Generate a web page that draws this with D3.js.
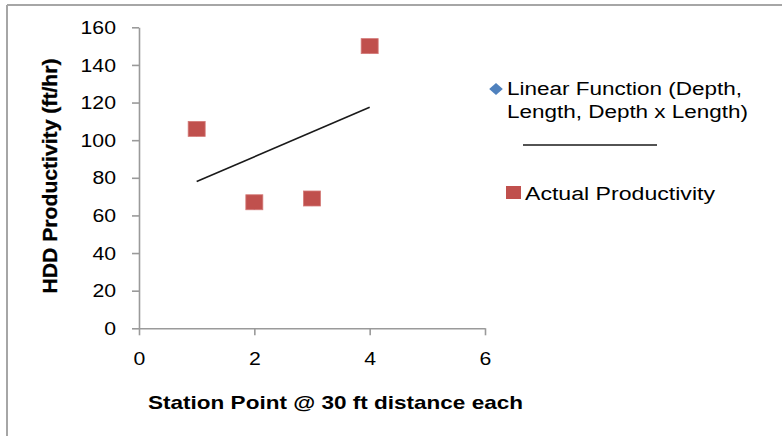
<!DOCTYPE html>
<html>
<head>
<meta charset="utf-8">
<script src="https://cdn.jsdelivr.net/npm/d3@7"></script>
<style>
  html, body { margin: 0; padding: 0; background: #fff; }
  svg { display: block; font-family: "Liberation Sans", Arial, sans-serif; }
</style>
</head>
<body>
<svg id="chart" width="782" height="436"></svg>
<script>
// Station points along the bore (x) and productivity values (ft/hr)
const stations = [1, 2, 3, 4];
const actualProductivity = [106, 67, 69, 150];
const linearFunction = [104, 65, 67, 148];
// Linear trend of the model series, drawn between its end stations
const trendStations = [1, 4];
const trendValues = [78, 117.5];

const xTicks = [0, 2, 4, 6];
const yTicks = [0, 20, 40, 60, 80, 100, 120, 140, 160];

const seriesNames = ["Linear Function (Depth,", "Length, Depth x Length)"];
const actualName = "Actual Productivity";
const xTitle = "Station Point @ 30 ft distance each";
const yTitle = "HDD Productivity (ft/hr)";

const svg = d3.select("#chart");
const STRETCH = 1.18;   // glyphs are drawn a bit wide

// widen a text element horizontally while keeping its anchor
function widen(sel, factor) {
  sel.each(function () {
    const w = this.getComputedTextLength();
    d3.select(this).attr("textLength", w * factor).attr("lengthAdjust", "spacingAndGlyphs");
  });
}

// outer chart frame (only left and top edges fall inside the view)
svg.append("line").attr("x1", 7).attr("y1", 5).attr("x2", 782).attr("y2", 5)
  .attr("stroke", "#a6a6a6").attr("stroke-width", 2);
svg.append("line").attr("x1", 7).attr("y1", 5).attr("x2", 7).attr("y2", 436)
  .attr("stroke", "#a6a6a6").attr("stroke-width", 2);

const x = d3.scaleLinear().domain([0, 6]).range([139, 485]);
const y = d3.scaleLinear().domain([0, 160]).range([328.3, 27.3]);

const axisColor = "#9a9a9a";

// y axis
const gy = svg.append("g").attr("transform", `translate(${x(0)},0)`)
  .call(d3.axisLeft(y).tickValues(yTicks).tickFormat(d3.format("d"))
    .tickSize(7).tickPadding(16).tickSizeOuter(0));
gy.select(".domain").attr("stroke", axisColor).attr("stroke-width", 1.6);
gy.selectAll(".tick line").attr("stroke", axisColor).attr("stroke-width", 1.6);
gy.selectAll(".tick text").attr("fill", "#000").attr("font-size", 18)
  .attr("font-family", "Liberation Sans, Arial, sans-serif").attr("dy", "0.34em")
  .call(widen, STRETCH);

// x axis
const gx = svg.append("g").attr("transform", `translate(0,${y(0)})`)
  .call(d3.axisBottom(x).tickValues(xTicks).tickFormat(d3.format("d"))
    .tickSize(7).tickPadding(17).tickSizeOuter(0));
gx.select(".domain").attr("stroke", axisColor).attr("stroke-width", 1.6);
gx.selectAll(".tick line").attr("stroke", axisColor).attr("stroke-width", 1.6);
gx.selectAll(".tick text").attr("fill", "#000").attr("font-size", 18)
  .attr("font-family", "Liberation Sans, Arial, sans-serif")
  .call(widen, STRETCH);

// axis titles
svg.append("text").attr("x", 148).attr("y", 409)
  .attr("font-size", 19).attr("font-weight", "bold").attr("fill", "#000")
  .attr("textLength", 375).attr("lengthAdjust", "spacingAndGlyphs")
  .text(xTitle);

svg.append("text")
  .attr("transform", "translate(57,176) rotate(-90)")
  .attr("text-anchor", "middle")
  .attr("font-size", 20).attr("font-weight", "bold").attr("fill", "#000")
  .attr("stroke", "#000").attr("stroke-width", 0.3)
  .attr("textLength", 235).attr("lengthAdjust", "spacingAndGlyphs")
  .text(yTitle);

// trend line
const trend = trendStations.map((s, i) => [s, trendValues[i]]);
svg.append("path")
  .datum(trend)
  .attr("d", d3.line().x(d => x(d[0])).y(d => y(d[1])))
  .attr("stroke", "#1a1a1a").attr("stroke-width", 1.6).attr("fill", "none");

// model series (diamonds)
const diamond = d3.symbol().type(d3.symbolDiamond2).size(40);
svg.append("g").selectAll("path")
  .data(stations.map((s, i) => [s, linearFunction[i]]))
  .join("path")
  .attr("d", diamond)
  .attr("transform", d => `translate(${x(d[0])},${y(d[1])})`)
  .attr("fill", "#4f81bd");

// actual productivity (squares)
const sqW = 17, sqH = 15;
svg.append("g").selectAll("rect")
  .data(stations.map((s, i) => [s, actualProductivity[i]]))
  .join("rect")
  .attr("x", d => x(d[0]) - sqW / 2)
  .attr("y", d => y(d[1]) - sqH / 2)
  .attr("width", sqW).attr("height", sqH)
  .attr("fill", "#c0504d").attr("stroke", "#d47a78").attr("stroke-width", 0.8);

// legend
const legend = svg.append("g");
legend.append("path").attr("d", d3.symbol().type(d3.symbolDiamond2).size(90)())
  .attr("transform", "translate(496,89) scale(1.15,1)").attr("fill", "#4f81bd");
const seriesLengths = [235, 241];
legend.selectAll("text.series")
  .data(seriesNames)
  .join("text")
  .attr("class", "series")
  .attr("x", 507).attr("y", (d, i) => 95 + i * 23)
  .attr("font-size", 18).attr("fill", "#000")
  .attr("textLength", (d, i) => seriesLengths[i]).attr("lengthAdjust", "spacingAndGlyphs")
  .text(d => d);
legend.append("line").attr("x1", 523).attr("x2", 657).attr("y1", 145).attr("y2", 145)
  .attr("stroke", "#1a1a1a").attr("stroke-width", 1.6);
legend.append("rect").attr("x", 506).attr("y", 186).attr("width", 15).attr("height", 13)
  .attr("fill", "#c0504d");
legend.append("text").attr("x", 525).attr("y", 200)
  .attr("font-size", 18).attr("fill", "#000")
  .attr("textLength", 190).attr("lengthAdjust", "spacingAndGlyphs")
  .text(actualName);
</script>
</body>
</html>
